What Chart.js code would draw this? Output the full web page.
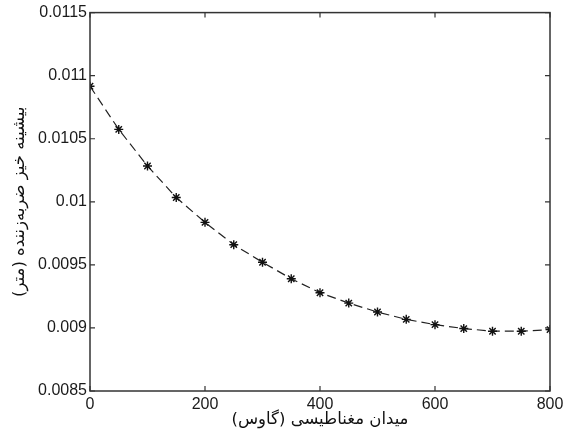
<!DOCTYPE html>
<html>
<head>
<meta charset="utf-8">
<script src="https://cdn.jsdelivr.net/npm/chart.js@4.4.1/dist/chart.umd.min.js"></script>
<style>
  html, body { margin: 0; padding: 0; background: #fff; }
  #wrap { width: 568px; height: 430px; position: relative; }
</style>
</head>
<body>
<div id="wrap"><canvas id="deflectionChart"></canvas></div>
<script>
// magnetic field (Gauss) and max deflection (m)
const fieldValues = [0, 50, 100, 150, 200, 250, 300, 350, 400, 450, 500, 550, 600, 650, 700, 750, 800];
const deflection = [0.010916, 0.010574, 0.010284, 0.010034, 0.009837, 0.00966, 0.009521, 0.00939,
                    0.009279, 0.009197, 0.009126, 0.009068, 0.009026, 0.008995, 0.008974, 0.008974, 0.008987];
const xTicks = [0, 200, 400, 600, 800];
const yTicks = [0.0085, 0.009, 0.0095, 0.01, 0.0105, 0.011, 0.0115];
const xTitle = 'میدان مغناطیسی (گاوس)';
const yTitle = 'بیشینه خیز ضربه‌زننده (متر)';

const tickFont = { family: "'Liberation Sans', Arial, sans-serif", size: 16 };
const titleFont = { family: "'DejaVu Sans', 'Noto Sans', sans-serif", size: 16.5 };

// box around plot + inward ticks on all four sides
const frameBox = {
    id: 'frameBox',
    afterDatasetsDraw(chart) {
        const ctx = chart.ctx;
        const a = chart.chartArea;
        const xs = chart.scales.x, ys = chart.scales.y;
        ctx.save();
        ctx.strokeStyle = '#333';
        ctx.lineWidth = 1.5;
        ctx.strokeRect(a.left, a.top, a.right - a.left, a.bottom - a.top);
        ctx.lineWidth = 1.2;
        ctx.beginPath();
        xTicks.forEach(v => {
            const px = xs.getPixelForValue(v);
            ctx.moveTo(px, a.bottom); ctx.lineTo(px, a.bottom - 5);
            ctx.moveTo(px, a.top); ctx.lineTo(px, a.top + 5);
        });
        yTicks.forEach(v => {
            const py = ys.getPixelForValue(v);
            ctx.moveTo(a.left, py); ctx.lineTo(a.left + 5, py);
            ctx.moveTo(a.right, py); ctx.lineTo(a.right - 5, py);
        });
        ctx.stroke();
        ctx.restore();
    }
};

new Chart(document.getElementById('deflectionChart'), {
    type: 'line',
    data: {
        datasets: [{
            data: fieldValues.map((x, i) => ({ x: x, y: deflection[i] })),
            borderColor: '#222',
            borderWidth: 1.2,
            borderDash: [9, 5],
            pointStyle: 'star',
            pointRadius: 4.5,
            pointBorderWidth: 1.4,
            pointBorderColor: '#111',
            pointBackgroundColor: '#111',
            tension: 0,
            fill: false
        }]
    },
    options: {
        responsive: true,
        maintainAspectRatio: false,
        animation: false,
        layout: { padding: { left: 10, right: 18, top: 11, bottom: 0 } },
        plugins: { legend: { display: false }, tooltip: { enabled: false } },
        scales: {
            x: {
                type: 'linear',
                min: 0,
                max: 800,
                afterBuildTicks: s => { s.ticks = xTicks.map(v => ({ value: v })); },
                afterFit: s => { s.height = 39; },
                grid: { display: false, drawTicks: false },
                border: { display: false },
                ticks: { color: '#1a1a1a', font: tickFont, padding: 4, maxRotation: 0 },
                title: { display: true, text: xTitle, color: '#111', font: titleFont, padding: { top: -8, bottom: 0 } }
            },
            y: {
                min: 0.0085,
                max: 0.0115,
                afterBuildTicks: s => { s.ticks = yTicks.map(v => ({ value: v })); },
                afterFit: s => { s.width = 80; },
                grid: { display: false, drawTicks: false },
                border: { display: false },
                ticks: {
                    color: '#1a1a1a',
                    font: tickFont,
                    padding: 3,
                    callback: v => parseFloat(Number(v).toFixed(4)).toString()
                },
                title: { display: true, text: yTitle, color: '#111', font: titleFont, padding: { top: 0, bottom: 2 } }
            }
        }
    },
    plugins: [frameBox]
});
</script>
</body>
</html>
